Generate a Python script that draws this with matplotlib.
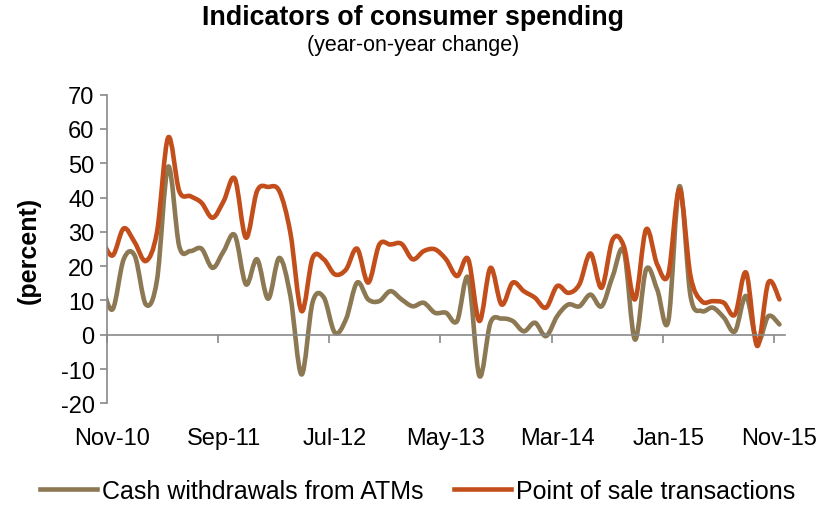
import numpy as np
import matplotlib
matplotlib.use("Agg")
import matplotlib.pyplot as plt
from matplotlib.path import Path
from matplotlib.patches import PathPatch
from matplotlib.lines import Line2D

plt.rcParams["font.family"] = ["Liberation Sans", "DejaVu Sans"]
plt.rcParams["axes.unicode_minus"] = False

# Monthly series, Oct-10 .. Nov-15 (the Oct-10 value only shapes the curve entering the plot)
months = ["Oct-10",
          "Nov-10", "Dec-10", "Jan-11", "Feb-11", "Mar-11", "Apr-11", "May-11", "Jun-11", "Jul-11", "Aug-11",
          "Sep-11", "Oct-11", "Nov-11", "Dec-11", "Jan-12", "Feb-12", "Mar-12", "Apr-12", "May-12", "Jun-12",
          "Jul-12", "Aug-12", "Sep-12", "Oct-12", "Nov-12", "Dec-12", "Jan-13", "Feb-13", "Mar-13", "Apr-13",
          "May-13", "Jun-13", "Jul-13", "Aug-13", "Sep-13", "Oct-13", "Nov-13", "Dec-13", "Jan-14", "Feb-14",
          "Mar-14", "Apr-14", "May-14", "Jun-14", "Jul-14", "Aug-14", "Sep-14", "Oct-14", "Nov-14", "Dec-14",
          "Jan-15", "Feb-15", "Mar-15", "Apr-15", "May-15", "Jun-15", "Jul-15", "Aug-15", "Sep-15", "Oct-15",
          "Nov-15"]

atm_withdrawals = [15.0,
                   7.4, 22.0, 23.0, 8.8, 16.0, 49.0, 25.8, 24.4, 25.1, 19.5,
                   24.4, 29.0, 14.7, 22.0, 10.5, 22.4, 11.3, -11.6, 9.5, 10.9,
                   0.6, 4.5, 15.2, 10.3, 9.8, 12.7, 10.3, 8.3, 9.3, 6.4,
                   6.4, 4.0, 16.6, -12.0, 3.5, 4.7, 4.0, 1.0, 3.5, -0.4,
                   5.4, 8.8, 8.3, 11.7, 8.3, 17.1, 24.4, -1.4, 19.0, 13.2,
                   4.0, 43.3, 11.3, 6.9, 7.9, 5.0, 1.0, 11.3, -2.3, 5.4,
                   3.0]

pos_transactions = [28.0,
                    23.1, 31.0, 26.9, 21.5, 30.0, 57.5, 41.9, 40.4, 38.5, 34.1,
                    39.0, 45.5, 28.3, 41.9, 43.1, 41.9, 29.7, 6.9, 22.4, 22.0,
                    17.6, 19.0, 25.1, 15.2, 26.3, 26.3, 26.5, 22.0, 24.4, 24.9,
                    22.0, 17.1, 22.0, 4.0, 19.5, 8.8, 15.2, 12.7, 10.8, 7.9,
                    14.2, 12.2, 14.7, 23.7, 13.7, 27.8, 25.8, 10.3, 30.7, 20.5,
                    17.6, 42.4, 17.1, 9.8, 9.8, 9.3, 5.9, 18.1, -3.3, 15.2,
                    10.3]

tick_labels = ["Nov-10", "Sep-11", "Jul-12", "May-13", "Mar-14", "Jan-15", "Nov-15"]

ATM_COLOR = "#8C7853"
POS_COLOR = "#C24F1B"
AXIS_GRAY = "#898989"
LW = 3.3


def smooth_path(xs, ys):
    """Bezier path through the points, Catmull-Rom style tangents."""
    p = np.column_stack([xs, ys]).astype(float)
    n = len(p)
    verts = [p[0]]
    codes = [Path.MOVETO]
    for i in range(n - 1):
        p0 = p[i - 1] if i > 0 else p[i]
        p1 = p[i]
        p2 = p[i + 1]
        p3 = p[i + 2] if i + 2 < n else p[i + 1]
        c1 = p1 + (p2 - p0) / 6.0
        c2 = p2 - (p3 - p1) / 6.0
        verts += [c1, c2, p2]
        codes += [Path.CURVE4] * 3
    return Path(verts, codes)


fig = plt.figure(figsize=(8.27, 5.06), dpi=100)
ax = fig.add_axes([107 / 827, 1 - 404.3 / 506, (785 - 107) / 827, (404.3 - 95.7) / 506])

x = np.arange(len(months)) - 1  # Nov-10 sits at 0
for series, color in ((atm_withdrawals, ATM_COLOR), (pos_transactions, POS_COLOR)):
    patch = PathPatch(smooth_path(x, series), facecolor="none", edgecolor=color,
                      lw=LW, capstyle="round", joinstyle="round")
    ax.add_patch(patch)

ax.set_xlim(-0.5, 60.5)
ax.set_ylim(-20, 70)

# axes styling
for side in ("top", "right"):
    ax.spines[side].set_visible(False)
ax.spines["left"].set_color(AXIS_GRAY)
ax.spines["left"].set_linewidth(1.2)
ax.spines["bottom"].set_position(("data", 0))
ax.spines["bottom"].set_color(AXIS_GRAY)
ax.spines["bottom"].set_linewidth(1.2)

ax.set_yticks(np.arange(-20, 71, 10))
ax.tick_params(axis="y", direction="out", length=5, width=1.2, color=AXIS_GRAY,
               labelsize=17, labelcolor="black", pad=4)

# category boundaries carry the tick marks on the zero line
ax.set_xticks(np.arange(-0.5, 61, 10))
ax.tick_params(axis="x", direction="out", length=6, width=1.2, color=AXIS_GRAY,
               labelbottom=False)

# labels along the bottom of the plot area
lab_ax = ax.secondary_xaxis(0.0)
lab_ax.set_xticks(np.arange(0, 61, 10), tick_labels)
lab_ax.tick_params(length=0, labelsize=17, pad=17)
lab_ax.spines["bottom"].set_visible(False)

ax.set_ylabel("(percent)", fontsize=18, fontweight="bold", labelpad=14)

fig.text(0.5, 1 - 18 / 506, "Indicators of consumer spending", ha="center", va="center",
         fontsize=19.3, fontweight="bold")
fig.text(0.5, 1 - 46 / 506, "(year-on-year change)", ha="center", va="center", fontsize=15.5)

handles = [Line2D([], [], color=ATM_COLOR, lw=LW),
           Line2D([], [], color=POS_COLOR, lw=LW)]
fig.legend(handles, ["Cash withdrawals from ATMs", "Point of sale transactions"],
           loc="center", bbox_to_anchor=(0.505, 1 - 492 / 506), ncol=2, frameon=False,
           fontsize=18, handlelength=2.3, handletextpad=0.2, columnspacing=1.2,
           borderaxespad=0, borderpad=0)

fig.savefig("out.png", dpi=100)
